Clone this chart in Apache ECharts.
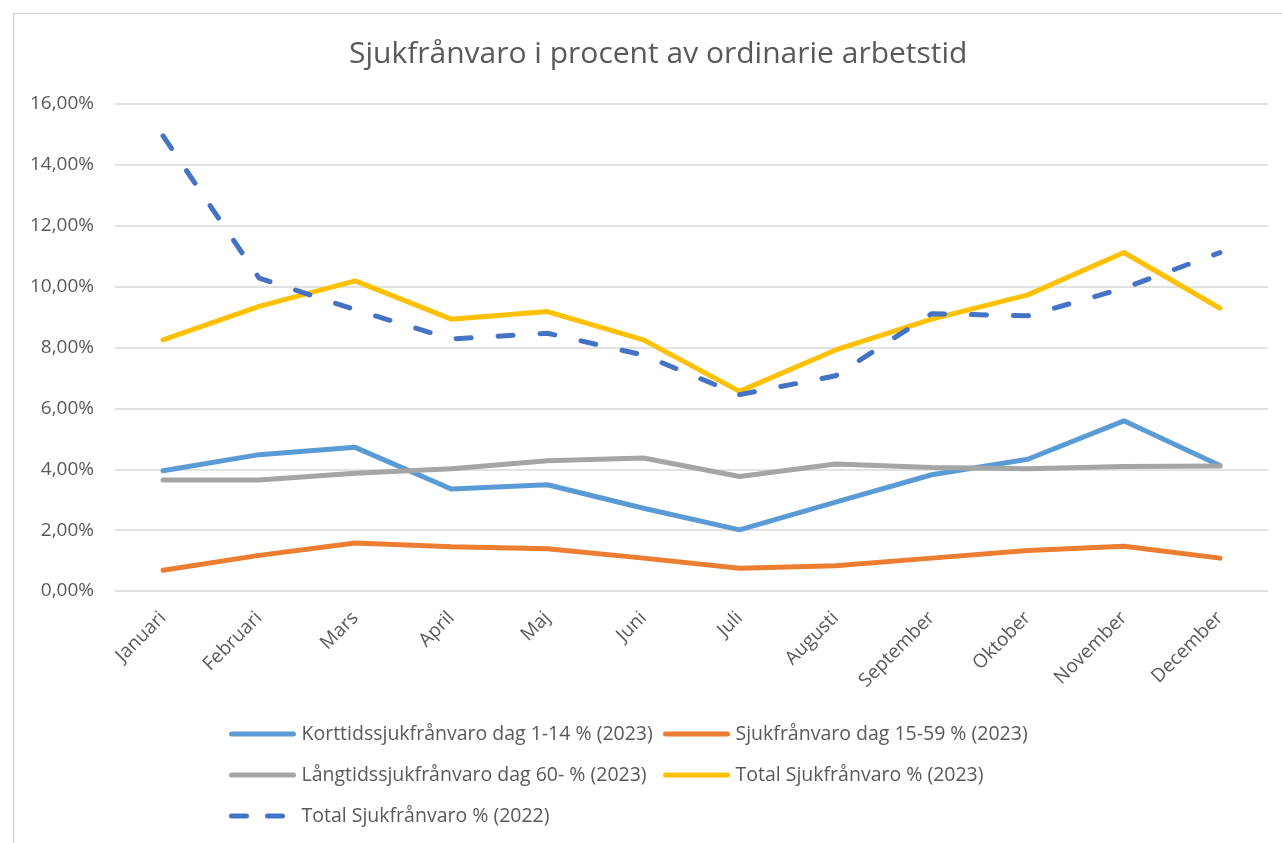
<!DOCTYPE html>
<html>
<head>
<meta charset="utf-8">
<script src="https://cdn.jsdelivr.net/npm/echarts@6/dist/echarts.min.js"></script>
<style>
html,body{margin:0;padding:0;background:#fff;}
#chart{width:1282px;height:843px;}
</style>
</head>
<body>
<div id="chart"></div>
<script>
const titleText = 'Sjukfrånvaro i procent av ordinarie arbetstid';
const months = ['Januari','Februari','Mars','April','Maj','Juni','Juli','Augusti','September','Oktober','November','December'];
const seriesNames = [
  'Korttidssjukfrånvaro dag 1-14 % (2023)',
  'Sjukfrånvaro dag 15-59 % (2023)',
  'Långtidssjukfrånvaro dag 60- % (2023)',
  'Total Sjukfrånvaro % (2023)',
  'Total Sjukfrånvaro % (2022)'
];
const kortTid2023 = [3.95, 4.48, 4.72, 3.35, 3.49, 2.72, 2.01, 2.92, 3.82, 4.33, 5.59, 4.12];
const mellan2023 = [0.68, 1.17, 1.58, 1.45, 1.39, 1.08, 0.75, 0.83, 1.08, 1.33, 1.47, 1.08];
const langTid2023 = [3.65, 3.65, 3.87, 4.02, 4.28, 4.37, 3.76, 4.17, 4.06, 4.02, 4.09, 4.11];
const total2023 = [8.25, 9.35, 10.19, 8.93, 9.18, 8.25, 6.56, 7.92, 8.93, 9.73, 11.12, 9.29];
const total2022 = [14.95, 10.28, 9.24, 8.28, 8.47, 7.75, 6.45, 7.07, 9.11, 9.04, 9.95, 11.12];
const yTicks = {min: 0, max: 16, interval: 2};

const colors = ['#5B9BD5', '#ED7D31', '#A5A5A5', '#FFC000', '#4472C4'];
const dataSets = [kortTid2023, mellan2023, langTid2023, total2023, total2022];
const textColor = '#595959';
const font = '"Open Sans", sans-serif';

const chart = echarts.init(document.getElementById('chart'), null, {renderer: 'canvas'});

const series = seriesNames.map((name, i) => ({
  name: name,
  type: 'line',
  data: dataSets[i],
  symbol: 'none',
  smooth: false,
  z: 2 + i,
  lineStyle: {
    color: colors[i],
    width: 5,
    cap: 'round',
    join: 'round',
    type: i === 4 ? [15, 27] : 'solid'
  },
  itemStyle: {color: colors[i]},
  emphasis: {disabled: true}
}));

const legendPos = [
  {left: 229, top: 736},
  {left: 663, top: 736},
  {left: 229, top: 777},
  {left: 663, top: 777},
  {left: 229, top: 818}
];
const legends = seriesNames.map((name, i) => ({
  data: [name],
  left: legendPos[i].left,
  top: legendPos[i].top - 12,
  itemWidth: 62,
  itemHeight: 24,
  itemGap: 0,
  padding: 0,
  selectedMode: false,
  itemStyle: {opacity: 0},
  lineStyle: {width: 5, cap: 'round', type: i === 4 ? [15, 21] : 'solid'},
  textStyle: {color: textColor, fontSize: 19.5, fontFamily: font, padding: [0, 0, 0, 3]}
}));

chart.setOption({
  backgroundColor: '#ffffff',
  animation: false,
  color: colors,
  title: {
    text: titleText,
    left: 344,
    top: 34,
    textStyle: {color: textColor, fontSize: 30, fontWeight: 'normal', fontFamily: font}
  },
  legend: legends,
  grid: {left: 115, right: 14, top: 104, bottom: 252, containLabel: false},
  xAxis: {
    type: 'category',
    data: months,
    boundaryGap: true,
    axisLine: {show: false},
    axisTick: {show: false},
    axisLabel: {rotate: 45, color: textColor, fontSize: 19, fontFamily: font, margin: 24, interval: 0}
  },
  yAxis: {
    type: 'value',
    min: yTicks.min,
    max: yTicks.max,
    interval: yTicks.interval,
    axisLine: {show: false},
    axisTick: {show: false},
    splitLine: {lineStyle: {color: '#d9d9d9', width: 1.5}},
    axisLabel: {
      color: textColor, fontSize: 19, fontFamily: font, margin: 21,
      formatter: v => v.toFixed(2).replace('.', ',') + '%'
    }
  },
  graphic: [{
    type: 'rect',
    left: 11, top: 11,
    shape: {width: 1400, height: 1000},
    style: {fill: 'none', stroke: '#d9d9d9', lineWidth: 1.5},
    silent: true
  }],
  series: series
});
</script>
</body>
</html>
